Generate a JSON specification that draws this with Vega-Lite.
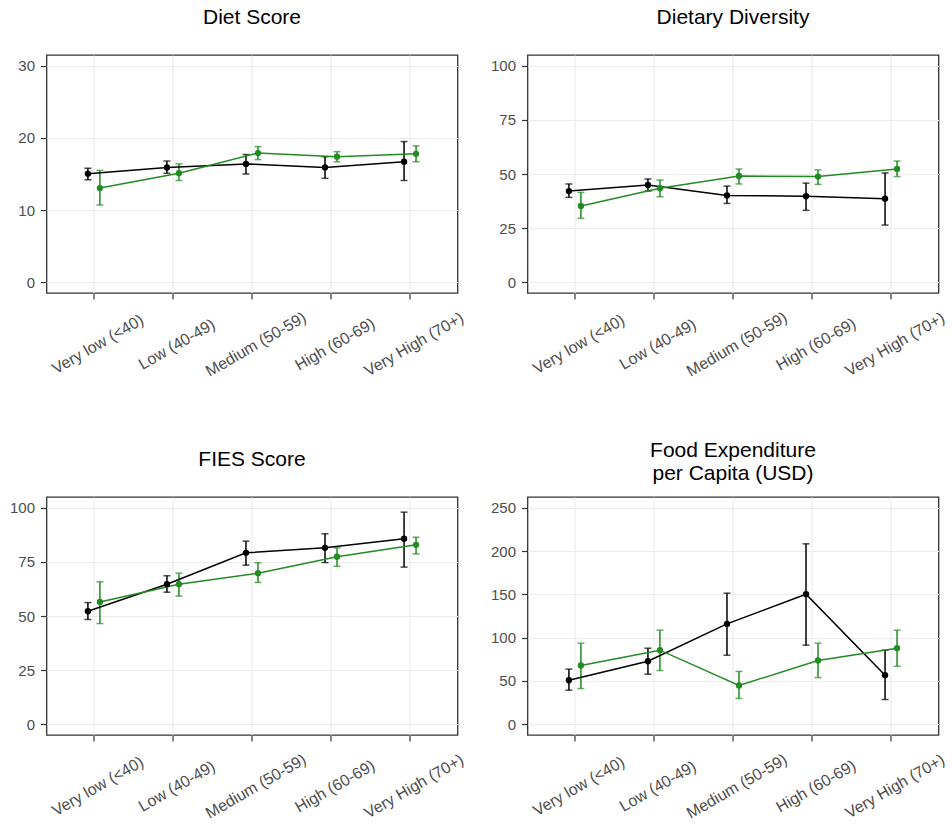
{
  "$schema": "https://vega.github.io/schema/vega-lite/v6.json",
  "background": "white",
  "padding": {"left": 8.5, "top": 6, "right": 4, "bottom": 4},
  "data": {"values": [
    {"panel": "diet", "cat": "Very low (<40)", "group": "Group A", "m": 15.05, "lo": 14.2, "hi": 15.8},
    {"panel": "diet", "cat": "Low (40-49)", "group": "Group A", "m": 15.9, "lo": 15.1, "hi": 16.8},
    {"panel": "diet", "cat": "Medium (50-59)", "group": "Group A", "m": 16.4, "lo": 15.0, "hi": 17.7},
    {"panel": "diet", "cat": "High (60-69)", "group": "Group A", "m": 15.9, "lo": 14.4, "hi": 17.4},
    {"panel": "diet", "cat": "Very High (70+)", "group": "Group A", "m": 16.7, "lo": 14.1, "hi": 19.5},
    {"panel": "diet", "cat": "Very low (<40)", "group": "Group B", "m": 13.05, "lo": 10.7, "hi": 15.5},
    {"panel": "diet", "cat": "Low (40-49)", "group": "Group B", "m": 15.1, "lo": 14.1, "hi": 16.4},
    {"panel": "diet", "cat": "Medium (50-59)", "group": "Group B", "m": 17.9, "lo": 17.0, "hi": 18.8},
    {"panel": "diet", "cat": "High (60-69)", "group": "Group B", "m": 17.4, "lo": 16.7, "hi": 18.1},
    {"panel": "diet", "cat": "Very High (70+)", "group": "Group B", "m": 17.8, "lo": 16.7, "hi": 18.9},

    {"panel": "div", "cat": "Very low (<40)", "group": "Group A", "m": 42.1, "lo": 39.2, "hi": 45.4},
    {"panel": "div", "cat": "Low (40-49)", "group": "Group A", "m": 44.9, "lo": 42.1, "hi": 47.7},
    {"panel": "div", "cat": "Medium (50-59)", "group": "Group A", "m": 40.1, "lo": 36.4, "hi": 44.4},
    {"panel": "div", "cat": "High (60-69)", "group": "Group A", "m": 39.7, "lo": 33.2, "hi": 45.8},
    {"panel": "div", "cat": "Very High (70+)", "group": "Group A", "m": 38.6, "lo": 26.4, "hi": 50.5},
    {"panel": "div", "cat": "Very low (<40)", "group": "Group B", "m": 35.2, "lo": 29.5, "hi": 41.5},
    {"panel": "div", "cat": "Low (40-49)", "group": "Group B", "m": 43.4, "lo": 39.5, "hi": 47.2},
    {"panel": "div", "cat": "Medium (50-59)", "group": "Group B", "m": 49.1, "lo": 45.4, "hi": 52.3},
    {"panel": "div", "cat": "High (60-69)", "group": "Group B", "m": 48.8, "lo": 45.2, "hi": 51.9},
    {"panel": "div", "cat": "Very High (70+)", "group": "Group B", "m": 52.3, "lo": 48.8, "hi": 56.0},

    {"panel": "fies", "cat": "Very low (<40)", "group": "Group A", "m": 52.2, "lo": 48.4, "hi": 56.2},
    {"panel": "fies", "cat": "Low (40-49)", "group": "Group A", "m": 64.7, "lo": 61.0, "hi": 68.6},
    {"panel": "fies", "cat": "Medium (50-59)", "group": "Group A", "m": 79.2, "lo": 73.5, "hi": 84.6},
    {"panel": "fies", "cat": "High (60-69)", "group": "Group A", "m": 81.5, "lo": 74.7, "hi": 88.0},
    {"panel": "fies", "cat": "Very High (70+)", "group": "Group A", "m": 85.7, "lo": 72.6, "hi": 98.0},
    {"panel": "fies", "cat": "Very low (<40)", "group": "Group B", "m": 56.5, "lo": 46.5, "hi": 65.8},
    {"panel": "fies", "cat": "Low (40-49)", "group": "Group B", "m": 64.7, "lo": 59.2, "hi": 69.8},
    {"panel": "fies", "cat": "Medium (50-59)", "group": "Group B", "m": 69.8, "lo": 65.5, "hi": 74.6},
    {"panel": "fies", "cat": "High (60-69)", "group": "Group B", "m": 77.4, "lo": 73.0, "hi": 81.5},
    {"panel": "fies", "cat": "Very High (70+)", "group": "Group B", "m": 82.9, "lo": 78.7, "hi": 86.4},

    {"panel": "food", "cat": "Very low (<40)", "group": "Group A", "m": 50.8, "lo": 39.3, "hi": 63.6},
    {"panel": "food", "cat": "Low (40-49)", "group": "Group A", "m": 72.8, "lo": 57.8, "hi": 87.8},
    {"panel": "food", "cat": "Medium (50-59)", "group": "Group A", "m": 115.9, "lo": 79.7, "hi": 151.4},
    {"panel": "food", "cat": "High (60-69)", "group": "Group A", "m": 150.2, "lo": 91.3, "hi": 208.4},
    {"panel": "food", "cat": "Very High (70+)", "group": "Group A", "m": 56.6, "lo": 28.5, "hi": 85.5},
    {"panel": "food", "cat": "Very low (<40)", "group": "Group B", "m": 67.8, "lo": 41.2, "hi": 93.6},
    {"panel": "food", "cat": "Low (40-49)", "group": "Group B", "m": 85.5, "lo": 62.0, "hi": 108.6},
    {"panel": "food", "cat": "Medium (50-59)", "group": "Group B", "m": 44.7, "lo": 29.7, "hi": 60.9},
    {"panel": "food", "cat": "High (60-69)", "group": "Group B", "m": 73.6, "lo": 53.9, "hi": 93.6},
    {"panel": "food", "cat": "Very High (70+)", "group": "Group B", "m": 87.8, "lo": 67.0, "hi": 108.6}
  ]},
  "columns": 2,
  "bounds": "flush",
  "spacing": {"row": 204, "column": 70},
  "concat": [
    {
      "title": {"text": "Diet Score", "offset": 9.7, "baseline": "alphabetic"},
      "width": 411, "height": 238,
      "transform": [{"filter": "datum.panel === 'diet'"}],
      "encoding": {
        "x": {"field": "cat", "type": "nominal", "sort": ["Very low (<40)", "Low (40-49)", "Medium (50-59)", "High (60-69)", "Very High (70+)"], "scale": {"type": "band", "paddingInner": 0, "paddingOuter": 0.1}, "axis": {"title": null}},
        "xOffset": {"field": "group", "type": "nominal", "scale": {"type": "band", "range": [33.5, 45.5], "paddingInner": 1, "paddingOuter": 0}},
        "color": {"field": "group", "type": "nominal", "scale": {"domain": ["Group A", "Group B"], "range": ["#000000", "#228B22"]}, "legend": null}
      },
      "layer": [
        {"mark": {"type": "rule", "strokeWidth": 1.5}, "encoding": {"y": {"field": "lo", "type": "quantitative", "scale": {"domain": [-1.5, 31.5], "nice": false, "zero": false}, "axis": {"title": null, "values": [0, 10, 20, 30]}}, "y2": {"field": "hi"}}},
        {"mark": {"type": "tick", "thickness": 1.5, "size": 7}, "encoding": {"y": {"field": "lo", "type": "quantitative", "axis": {"title": null, "orient": "left", "values": [5, 15, 25], "labels": false, "ticks": false, "domain": false, "gridWidth": 0.8}}}},
        {"mark": {"type": "tick", "thickness": 1.5, "size": 7}, "encoding": {"y": {"field": "hi", "type": "quantitative", "axis": null}}},
        {"mark": {"type": "line", "strokeWidth": 1.5}, "encoding": {"y": {"field": "m", "type": "quantitative", "axis": null}}},
        {"mark": {"type": "point", "filled": true, "size": 40, "opacity": 1}, "encoding": {"y": {"field": "m", "type": "quantitative", "axis": null}}}
      ],
      "resolve": {"axis": {"y": "independent"}}
    },
    {
      "title": {"text": "Dietary Diversity", "offset": 9.7, "baseline": "alphabetic"},
      "width": 411, "height": 238,
      "transform": [{"filter": "datum.panel === 'div'"}],
      "encoding": {
        "x": {"field": "cat", "type": "nominal", "sort": ["Very low (<40)", "Low (40-49)", "Medium (50-59)", "High (60-69)", "Very High (70+)"], "scale": {"type": "band", "paddingInner": 0, "paddingOuter": 0.1}, "axis": {"title": null}},
        "xOffset": {"field": "group", "type": "nominal", "scale": {"type": "band", "range": [33.5, 45.5], "paddingInner": 1, "paddingOuter": 0}},
        "color": {"field": "group", "type": "nominal", "scale": {"domain": ["Group A", "Group B"], "range": ["#000000", "#228B22"]}, "legend": null}
      },
      "layer": [
        {"mark": {"type": "rule", "strokeWidth": 1.5}, "encoding": {"y": {"field": "lo", "type": "quantitative", "scale": {"domain": [-5, 105], "nice": false, "zero": false}, "axis": {"title": null, "values": [0, 25, 50, 75, 100]}}, "y2": {"field": "hi"}}},
        {"mark": {"type": "tick", "thickness": 1.5, "size": 7}, "encoding": {"y": {"field": "lo", "type": "quantitative", "axis": {"title": null, "orient": "left", "values": [12.5, 37.5, 62.5, 87.5], "labels": false, "ticks": false, "domain": false, "gridWidth": 0.8}}}},
        {"mark": {"type": "tick", "thickness": 1.5, "size": 7}, "encoding": {"y": {"field": "hi", "type": "quantitative", "axis": null}}},
        {"mark": {"type": "line", "strokeWidth": 1.5}, "encoding": {"y": {"field": "m", "type": "quantitative", "axis": null}}},
        {"mark": {"type": "point", "filled": true, "size": 40, "opacity": 1}, "encoding": {"y": {"field": "m", "type": "quantitative", "axis": null}}}
      ],
      "resolve": {"axis": {"y": "independent"}}
    },
    {
      "title": {"text": "FIES Score", "offset": 9.7, "baseline": "alphabetic"},
      "width": 411, "height": 238,
      "transform": [{"filter": "datum.panel === 'fies'"}],
      "encoding": {
        "x": {"field": "cat", "type": "nominal", "sort": ["Very low (<40)", "Low (40-49)", "Medium (50-59)", "High (60-69)", "Very High (70+)"], "scale": {"type": "band", "paddingInner": 0, "paddingOuter": 0.1}, "axis": {"title": null}},
        "xOffset": {"field": "group", "type": "nominal", "scale": {"type": "band", "range": [33.5, 45.5], "paddingInner": 1, "paddingOuter": 0}},
        "color": {"field": "group", "type": "nominal", "scale": {"domain": ["Group A", "Group B"], "range": ["#000000", "#228B22"]}, "legend": null}
      },
      "layer": [
        {"mark": {"type": "rule", "strokeWidth": 1.5}, "encoding": {"y": {"field": "lo", "type": "quantitative", "scale": {"domain": [-5, 105], "nice": false, "zero": false}, "axis": {"title": null, "values": [0, 25, 50, 75, 100]}}, "y2": {"field": "hi"}}},
        {"mark": {"type": "tick", "thickness": 1.5, "size": 7}, "encoding": {"y": {"field": "lo", "type": "quantitative", "axis": {"title": null, "orient": "left", "values": [12.5, 37.5, 62.5, 87.5], "labels": false, "ticks": false, "domain": false, "gridWidth": 0.8}}}},
        {"mark": {"type": "tick", "thickness": 1.5, "size": 7}, "encoding": {"y": {"field": "hi", "type": "quantitative", "axis": null}}},
        {"mark": {"type": "line", "strokeWidth": 1.5}, "encoding": {"y": {"field": "m", "type": "quantitative", "axis": null}}},
        {"mark": {"type": "point", "filled": true, "size": 40, "opacity": 1}, "encoding": {"y": {"field": "m", "type": "quantitative", "axis": null}}}
      ],
      "resolve": {"axis": {"y": "independent"}}
    },
    {
      "title": {"text": ["Food Expenditure", "per Capita (USD)"], "offset": -4.3, "baseline": "alphabetic", "lineHeight": 23},
      "width": 411, "height": 238,
      "transform": [{"filter": "datum.panel === 'food'"}],
      "encoding": {
        "x": {"field": "cat", "type": "nominal", "sort": ["Very low (<40)", "Low (40-49)", "Medium (50-59)", "High (60-69)", "Very High (70+)"], "scale": {"type": "band", "paddingInner": 0, "paddingOuter": 0.1}, "axis": {"title": null}},
        "xOffset": {"field": "group", "type": "nominal", "scale": {"type": "band", "range": [33.5, 45.5], "paddingInner": 1, "paddingOuter": 0}},
        "color": {"field": "group", "type": "nominal", "scale": {"domain": ["Group A", "Group B"], "range": ["#000000", "#228B22"]}, "legend": null}
      },
      "layer": [
        {"mark": {"type": "rule", "strokeWidth": 1.5}, "encoding": {"y": {"field": "lo", "type": "quantitative", "scale": {"domain": [-12.5, 262.5], "nice": false, "zero": false}, "axis": {"title": null, "values": [0, 50, 100, 150, 200, 250]}}, "y2": {"field": "hi"}}},
        {"mark": {"type": "tick", "thickness": 1.5, "size": 7}, "encoding": {"y": {"field": "lo", "type": "quantitative", "axis": {"title": null, "orient": "left", "values": [25, 75, 125, 175, 225], "labels": false, "ticks": false, "domain": false, "gridWidth": 0.8}}}},
        {"mark": {"type": "tick", "thickness": 1.5, "size": 7}, "encoding": {"y": {"field": "hi", "type": "quantitative", "axis": null}}},
        {"mark": {"type": "line", "strokeWidth": 1.5}, "encoding": {"y": {"field": "m", "type": "quantitative", "axis": null}}},
        {"mark": {"type": "point", "filled": true, "size": 40, "opacity": 1}, "encoding": {"y": {"field": "m", "type": "quantitative", "axis": null}}}
      ],
      "resolve": {"axis": {"y": "independent"}}
    }
  ],
  "config": {
    "font": "Liberation Sans",
    "view": {"stroke": "#333333", "strokeWidth": 1.3},
    "title": {"font": "Liberation Sans", "fontSize": 21, "fontWeight": "normal", "color": "#000000", "anchor": "middle"},
    "axis": {
      "labelFont": "Liberation Sans", "labelFontSize": 15, "labelColor": "#4D4D4D",
      "tickColor": "#333333", "tickWidth": 1.2, "tickSize": 6, "labelPadding": 6,
      "domain": false, "grid": true, "gridColor": "#EBEBEB", "gridWidth": 1.1
    },
    "axisX": {"labelAngle": -30, "labelFontSize": 16, "labelAlign": "center", "labelBaseline": "middle", "labelPadding": 45, "labelOffset": 4, "labelOverlap": false, "labelFlush": false, "labelBound": false}
  }
}
